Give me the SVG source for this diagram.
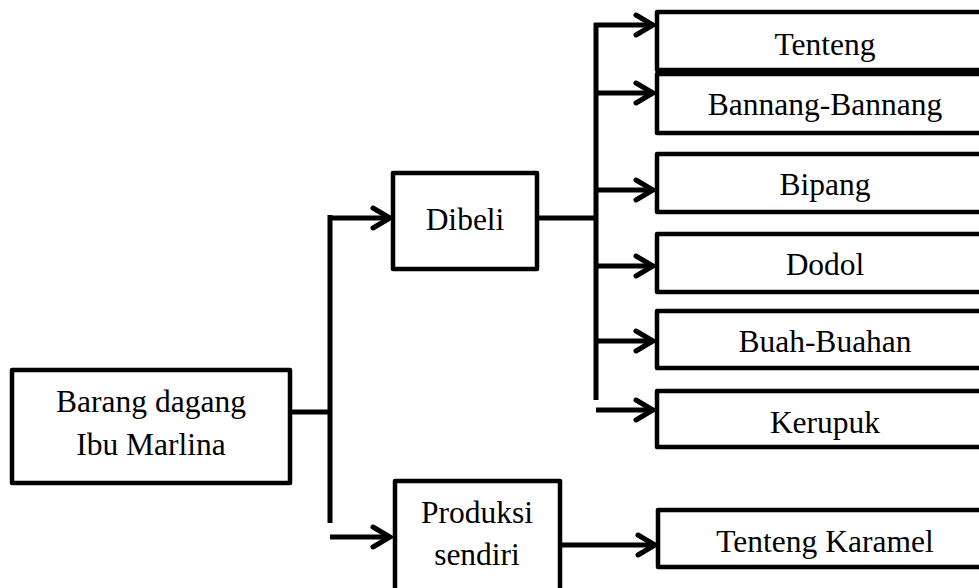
<svg xmlns="http://www.w3.org/2000/svg" width="979" height="588" viewBox="0 0 979 588">
<defs>
<style>
.box{fill:#fff;stroke:#000;stroke-width:4.5;stroke-linejoin:round}
.t{font-family:'Liberation Serif','Times New Roman','DejaVu Serif',serif;font-size:31.5px;fill:#000;text-anchor:middle}
.c{fill:none;stroke:#000;stroke-width:5}
.ah{fill:none;stroke:#000;stroke-width:5;stroke-linecap:round;stroke-linejoin:miter}
</style>
<marker id="arr" markerUnits="userSpaceOnUse" markerWidth="30" markerHeight="30" viewBox="-22 -15 30 30" refX="0" refY="0" orient="auto" overflow="visible">
<path class="ah" d="M-17,-10 L0,0 L-17,10"/>
</marker>
</defs>
<rect width="979" height="588" fill="#fff"/>
<g id="connectors">
<path class="c" d="M290,412 H330"/>
<path class="c" d="M330,215 V523"/>
<path class="c" d="M328,218 H390" marker-end="url(#arr)"/>
<path class="c" d="M330,537 H390" marker-end="url(#arr)"/>
<path class="c" d="M537,218 H596"/>
<path class="c" d="M596,23 V400"/>
<path class="c" d="M594,25 H653" marker-end="url(#arr)"/>
<path class="c" d="M596,93 H653" marker-end="url(#arr)"/>
<path class="c" d="M596,190 H653" marker-end="url(#arr)"/>
<path class="c" d="M596,266 H653" marker-end="url(#arr)"/>
<path class="c" d="M596,341 H653" marker-end="url(#arr)"/>
<path class="c" d="M596,410 H653" marker-end="url(#arr)"/>
<path class="c" d="M560,545 H655" marker-end="url(#arr)"/>
</g>
<g id="n-main">
<rect class="box" x="12" y="370" width="278" height="113"/>
<text class="t" x="151" y="412">Barang dagang</text>
<text class="t" x="151" y="455">Ibu Marlina</text>
</g>
<g id="n-dibeli">
<rect class="box" x="393" y="173" width="144" height="96"/>
<text class="t" x="465" y="230">Dibeli</text>
</g>
<g id="n-produksi">
<rect class="box" x="395" y="481" width="165" height="115"/>
<text class="t" x="477" y="523">Produksi</text>
<text class="t" x="477" y="565">sendiri</text>
</g>
<g id="n-tenteng">
<rect class="box" x="657" y="12" width="340" height="58"/>
<text class="t" x="825" y="55">Tenteng</text>
</g>
<g id="n-bannang">
<rect class="box" x="657" y="74" width="340" height="59"/>
<text class="t" x="825" y="115">Bannang-Bannang</text>
</g>
<g id="n-bipang">
<rect class="box" x="657" y="154" width="340" height="58"/>
<text class="t" x="825" y="195">Bipang</text>
</g>
<g id="n-dodol">
<rect class="box" x="657" y="234" width="340" height="58"/>
<text class="t" x="825" y="275">Dodol</text>
</g>
<g id="n-buah">
<rect class="box" x="657" y="311" width="340" height="57"/>
<text class="t" x="825" y="352">Buah-Buahan</text>
</g>
<g id="n-kerupuk">
<rect class="box" x="657" y="391" width="340" height="56"/>
<text class="t" x="825" y="433">Kerupuk</text>
</g>
<g id="n-karamel">
<rect class="box" x="658" y="510" width="340" height="57"/>
<text class="t" x="825" y="552">Tenteng Karamel</text>
</g>
</svg>
